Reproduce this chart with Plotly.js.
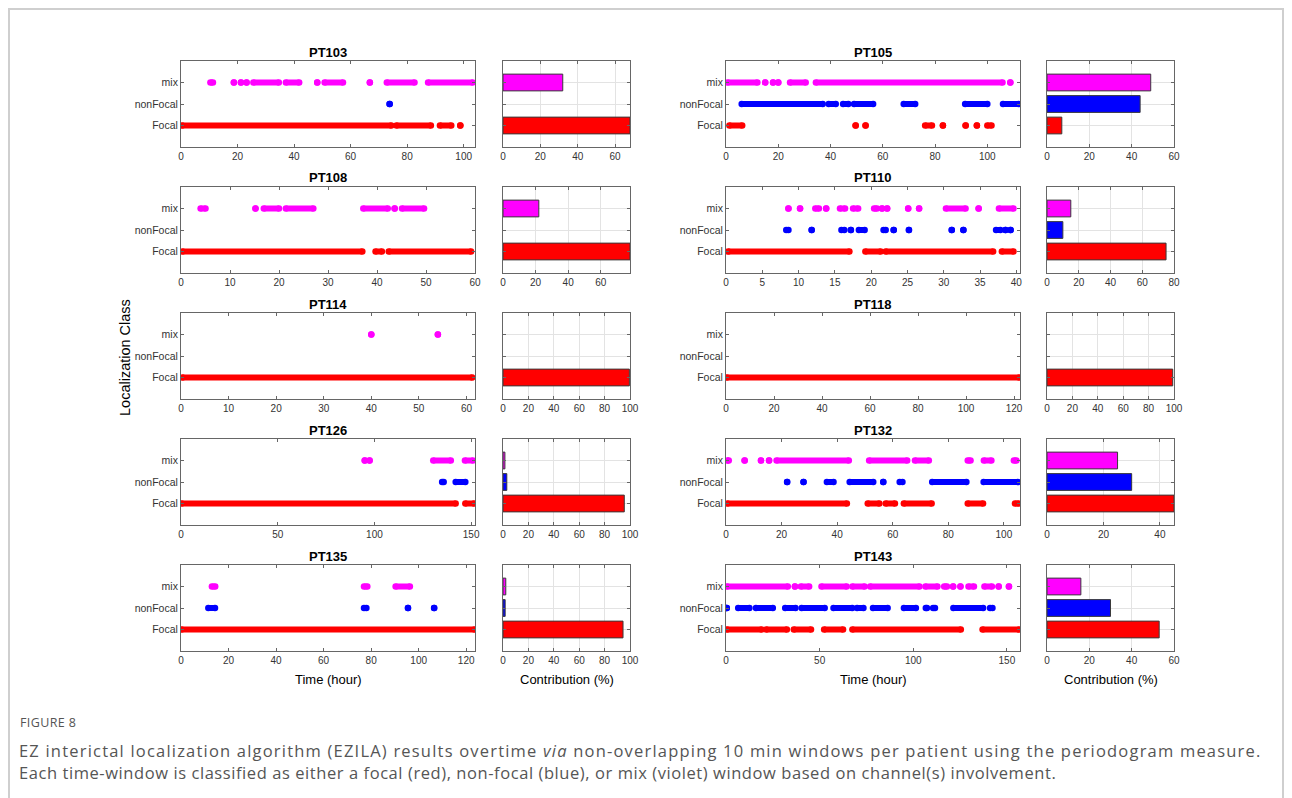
<!DOCTYPE html>
<html><head><meta charset="utf-8">
<script src="https://cdn.plot.ly/plotly-3.0.1.min.js"></script>
<style>
html,body{margin:0;padding:0;background:#fff;} #chart{width:1292px;height:798px;}
text[data-unformatted^="EZ interictal"] { letter-spacing: 1.2px; }
text[data-unformatted^="Each time"] { letter-spacing: 0.57px; }
text[data-unformatted="FIGURE 8"] { letter-spacing: 0.4px; }
</style>
</head><body><div id="chart"></div>
<script>
// ---------------- DATA ----------------
const patients = ['PT103','PT105','PT108','PT110','PT114','PT118','PT126','PT132','PT135','PT143'];
const classLabels = ['Focal','nonFocal','mix'];
const classColors = ['#FF0000','#0000FF','#FF00FF'];

// runs of consecutive windows [start hour, end hour]
const PT103_focal = [[0.4,74.4],[76.2,88.4],[91.6,95.6],[98.8,98.8]];
const PT103_nonFocal = [[73.8,73.8]];
const PT103_mix = [[10.4,11.3],[18.7,18.7],[21.2,21.2],[23.2,23.2],[25.6,34.6],[37.1,41.8],[48.2,48.2],[50.8,57.3],[66.8,66.8],[72.8,82.6],[87.4,103.2]];

const PT105_focal = [[1.3,6.2],[49.6,49.6],[53.4,53.4],[76.2,78.8],[83,83],[91.7,91.7],[96,96],[100,101.6]];
const PT105_nonFocal = [[6,37],[39.3,42],[44.8,46.8],[49,56.3],[68,72.4],[91.5,100],[106,112]];
const PT105_mix = [[0.6,12],[15,15],[18,18],[20,20],[24.5,30.5],[34.4,105.8],[108.8,108.8]];

const PT108_focal = [[0.3,37],[39.7,41],[42.4,59.2]];
const PT108_nonFocal = [];
const PT108_mix = [[4,5],[15.2,15.2],[16.9,20],[21.4,27],[37.2,42.2],[43.6,43.6],[45.1,49.6]];

const PT110_focal = [[0.3,17],[19.2,21.3],[22,36.8],[38,39.6]];
const PT110_nonFocal = [[8.3,8.6],[11.8,11.8],[15.9,16.3],[17.2,17.2],[18.3,19.1],[21.7,22],[23.1,23.1],[25.2,25.2],[31.1,31.1],[32.7,32.7],[37.2,37.8],[38.5,38.5],[39.2,39.2]];
const PT110_mix = [[8.6,8.6],[10.2,10.2],[12.3,12.8],[13.8,13.8],[15.7,16.4],[17.5,18.2],[20.4,20.8],[21.5,21.5],[22.2,22.2],[25.1,25.1],[26.6,26.6],[30.3,33],[34.8,34.8],[37.6,39.6]];

const PT114_focal = [[0.3,61.2]];
const PT114_nonFocal = [];
const PT114_mix = [[40,40],[54,54]];

const PT118_focal = [[0.3,122.2]];
const PT118_nonFocal = [];
const PT118_mix = [];

const PT126_focal = [[0.3,142],[147,151.5]];
const PT126_nonFocal = [[135,135.8],[142,147]];
const PT126_mix = [[95,95],[97.5,97.5],[130.4,139.5],[146.8,151]];

const PT132_focal = [[0.5,43.5],[51,55.2],[57.5,60.8],[64,74],[87,92.5],[104,105.3]];
const PT132_nonFocal = [[22,22],[27.9,27.9],[36.3,38.7],[44.5,53],[56.6,56.6],[62.5,63.5],[74.2,86.5],[92.7,105]];
const PT132_mix = [[0.5,1],[6.7,6.7],[12.6,12.6],[15.5,15.5],[18.2,44.2],[51.5,65.2],[68,73],[87,88],[92.8,95.5],[103.6,104.5]];

const PT135_focal = [[0.2,123.5]];
const PT135_nonFocal = [[11.5,14.3],[77,78],[95.5,95.5],[106.5,106.5]];
const PT135_mix = [[13,14.4],[77,78.4],[90.3,96.3]];

const PT143_focal = [[0.5,19],[21.5,32.5],[36.2,45.4],[52.4,62.5],[67.5,125.4],[137,156.5]];
const PT143_nonFocal = [[0.4,0.4],[6.5,12.5],[16,25],[31.6,37.1],[40.4,52.7],[57.4,67.4],[70,73.4],[78.5,86.3],[95,101.4],[106.7,107.3],[110.6,111.6],[121.4,137.3],[141,142.3]];
const PT143_mix = [[0.5,33],[36.8,36.8],[40,44.4],[51,64.4],[67.5,74],[77,103.3],[106.5,112.9],[116.5,118],[121.3,121.3],[125.2,125.2],[129.5,132.4],[138,142],[145.6,145.6],[151.1,151.1]];

// contribution (%) per class: [Focal, nonFocal, mix]  (0 = no visible bar)
const contribFocal    = [68, 7, 78, 75, 99.5, 99, 95.5, 45, 94.5, 53];
const contribNonFocal = [0, 44, 0, 10, 0, 0, 3, 30, 1.7, 30];
const contribMix      = [32, 49, 22, 15, 0, 0, 1.5, 25, 2.2, 16];

// axis extents
const timeMax = [104, 112.5, 60, 40.5, 61.8, 122.5, 152, 105.8, 123.7, 157];
const timeDtick = [20, 20, 10, 5, 10, 20, 50, 20, 20, 50];
const contribMax = [68, 60, 78, 80, 100, 100, 100, 45, 100, 60];

const runs = [
  [PT103_focal, PT103_nonFocal, PT103_mix],
  [PT105_focal, PT105_nonFocal, PT105_mix],
  [PT108_focal, PT108_nonFocal, PT108_mix],
  [PT110_focal, PT110_nonFocal, PT110_mix],
  [PT114_focal, PT114_nonFocal, PT114_mix],
  [PT118_focal, PT118_nonFocal, PT118_mix],
  [PT126_focal, PT126_nonFocal, PT126_mix],
  [PT132_focal, PT132_nonFocal, PT132_mix],
  [PT135_focal, PT135_nonFocal, PT135_mix],
  [PT143_focal, PT143_nonFocal, PT143_mix]
];

// ---------------- LAYOUT ----------------
const W = 1292, H = 798;
const colTime = [[181,475],[726,1020]];
const colBar  = [[503,630],[1047,1174]];
const rowTop = [61,187,313,439,565];
const rowH = 86;
const FONT = 'Liberation Sans, Arial, sans-serif';
const px = v => v / W;
const py = v => 1 - v / H;

const traces = [];
const layout = {
  width: W, height: H,
  margin: {l:0, r:0, t:0, b:0},
  paper_bgcolor: '#ffffff', plot_bgcolor: '#ffffff',
  showlegend: false,
  font: {family: FONT, size: 10, color: '#333'},
  annotations: [], shapes: []
};

const axisCommon = {
  showline: true, mirror: 'ticks', linecolor: '#666', linewidth: 1,
  ticks: 'inside', ticklen: 3, tickcolor: '#666', zeroline: false,
  tickfont: {family: FONT, size: 10, color: '#333'}, fixedrange: true
};

patients.forEach((name, i) => {
  const row = Math.floor(i / 2), col = i % 2;
  const ti = 2*i + 1, bi = 2*i + 2;
  const top = rowTop[row], bot = top + rowH;
  const yDom = [py(bot), py(top)];

  layout['xaxis' + ti] = Object.assign({}, axisCommon, {
    domain: [px(colTime[col][0]), px(colTime[col][1])], anchor: 'y' + ti,
    range: [0, timeMax[i]], dtick: timeDtick[i], tick0: 0, showgrid: false
  });
  layout['yaxis' + ti] = Object.assign({}, axisCommon, {
    domain: yDom, anchor: 'x' + ti, range: [0, 4],
    tickvals: [1,2,3], ticktext: classLabels, showgrid: false,
    tickfont: {family: FONT, size: 10.5, color: '#333'}
  });
  layout['xaxis' + bi] = Object.assign({}, axisCommon, {
    domain: [px(colBar[col][0]), px(colBar[col][1])], anchor: 'y' + bi,
    range: [0, contribMax[i]], dtick: 20, tick0: 0,
    showgrid: true, gridcolor: '#e3e3e3', gridwidth: 1
  });
  layout['yaxis' + bi] = Object.assign({}, axisCommon, {
    domain: yDom, anchor: 'x' + bi, range: [0, 4],
    tickvals: [1,2,3], showticklabels: false,
    showgrid: true, gridcolor: '#e3e3e3', gridwidth: 1
  });

  runs[i].forEach((classRuns, c) => {
    if (!classRuns.length) return;
    const xs = [], ys = [];
    classRuns.forEach(r => { xs.push(r[0], r[1], null); ys.push(c+1, c+1, null); });
    traces.push({
      type: 'scatter', mode: 'lines+markers', x: xs, y: ys,
      xaxis: 'x' + ti, yaxis: 'y' + ti,
      line: {color: classColors[c], width: 6},
      marker: {color: classColors[c], size: 6.5, line: {width: 0}},
      connectgaps: false, hoverinfo: 'skip', cliponaxis: true
    });
  });

  const vals = [contribFocal[i], contribNonFocal[i], contribMix[i]];
  traces.push({
    type: 'bar', orientation: 'h',
    x: vals.map(v => v > 0 ? v : null), y: [1,2,3],
    xaxis: 'x' + bi, yaxis: 'y' + bi, width: 0.78,
    marker: {color: classColors, line: {color: '#3a3a3a', width: 1}},
    hoverinfo: 'skip'
  });

  layout.annotations.push({
    xref: 'paper', yref: 'paper', x: px((colTime[col][0] + colTime[col][1]) / 2), y: py(top - 9),
    text: '<b>' + name + '</b>', showarrow: false, xanchor: 'center', yanchor: 'middle',
    font: {family: FONT, size: 13, color: '#000'}
  });
});

[0,1].forEach(col => {
  layout.annotations.push({
    xref: 'paper', yref: 'paper', x: px((colTime[col][0] + colTime[col][1]) / 2), y: py(679),
    text: 'Time (hour)', showarrow: false, xanchor: 'center', yanchor: 'middle',
    font: {family: FONT, size: 13, color: '#000'}
  });
  layout.annotations.push({
    xref: 'paper', yref: 'paper', x: px((colBar[col][0] + colBar[col][1]) / 2), y: py(679),
    text: 'Contribution (%)', showarrow: false, xanchor: 'center', yanchor: 'middle',
    font: {family: FONT, size: 13, color: '#000'}
  });
});

layout.annotations.push({
  xref: 'paper', yref: 'paper', x: px(125), y: py(358),
  text: 'Localization Class', showarrow: false, textangle: -90,
  xanchor: 'center', yanchor: 'middle',
  font: {family: FONT, size: 14.5, color: '#000'}
});

const CAP = 'Open Sans, Noto Sans, sans-serif';
layout.annotations.push({
  xref: 'paper', yref: 'paper', x: px(18), y: py(722), text: 'FIGURE 8',
  showarrow: false, xanchor: 'left', yanchor: 'middle',
  font: {family: CAP, size: 12.5, color: '#555'}
});
layout.annotations.push({
  xref: 'paper', yref: 'paper', x: px(17), y: py(750),
  text: 'EZ interictal localization algorithm (EZILA) results overtime <i>via</i> non-overlapping 10 min windows per patient using the periodogram measure.',
  showarrow: false, xanchor: 'left', yanchor: 'middle',
  font: {family: CAP, size: 16.5, color: '#555'}
});
layout.annotations.push({
  xref: 'paper', yref: 'paper', x: px(17), y: py(772),
  text: 'Each time-window is classified as either a focal (red), non-focal (blue), or mix (violet) window based on channel(s) involvement.',
  showarrow: false, xanchor: 'left', yanchor: 'middle',
  font: {family: CAP, size: 16.5, color: '#555'}
});

layout.shapes.push({
  type: 'rect', xref: 'paper', yref: 'paper',
  x0: px(9), x1: px(1283), y0: py(830), y1: py(9),
  line: {color: '#cfcfcf', width: 2}, fillcolor: 'rgba(0,0,0,0)', layer: 'below'
});

Plotly.newPlot('chart', traces, layout, {staticPlot: true, displayModeBar: false});
</script>
</body></html>
